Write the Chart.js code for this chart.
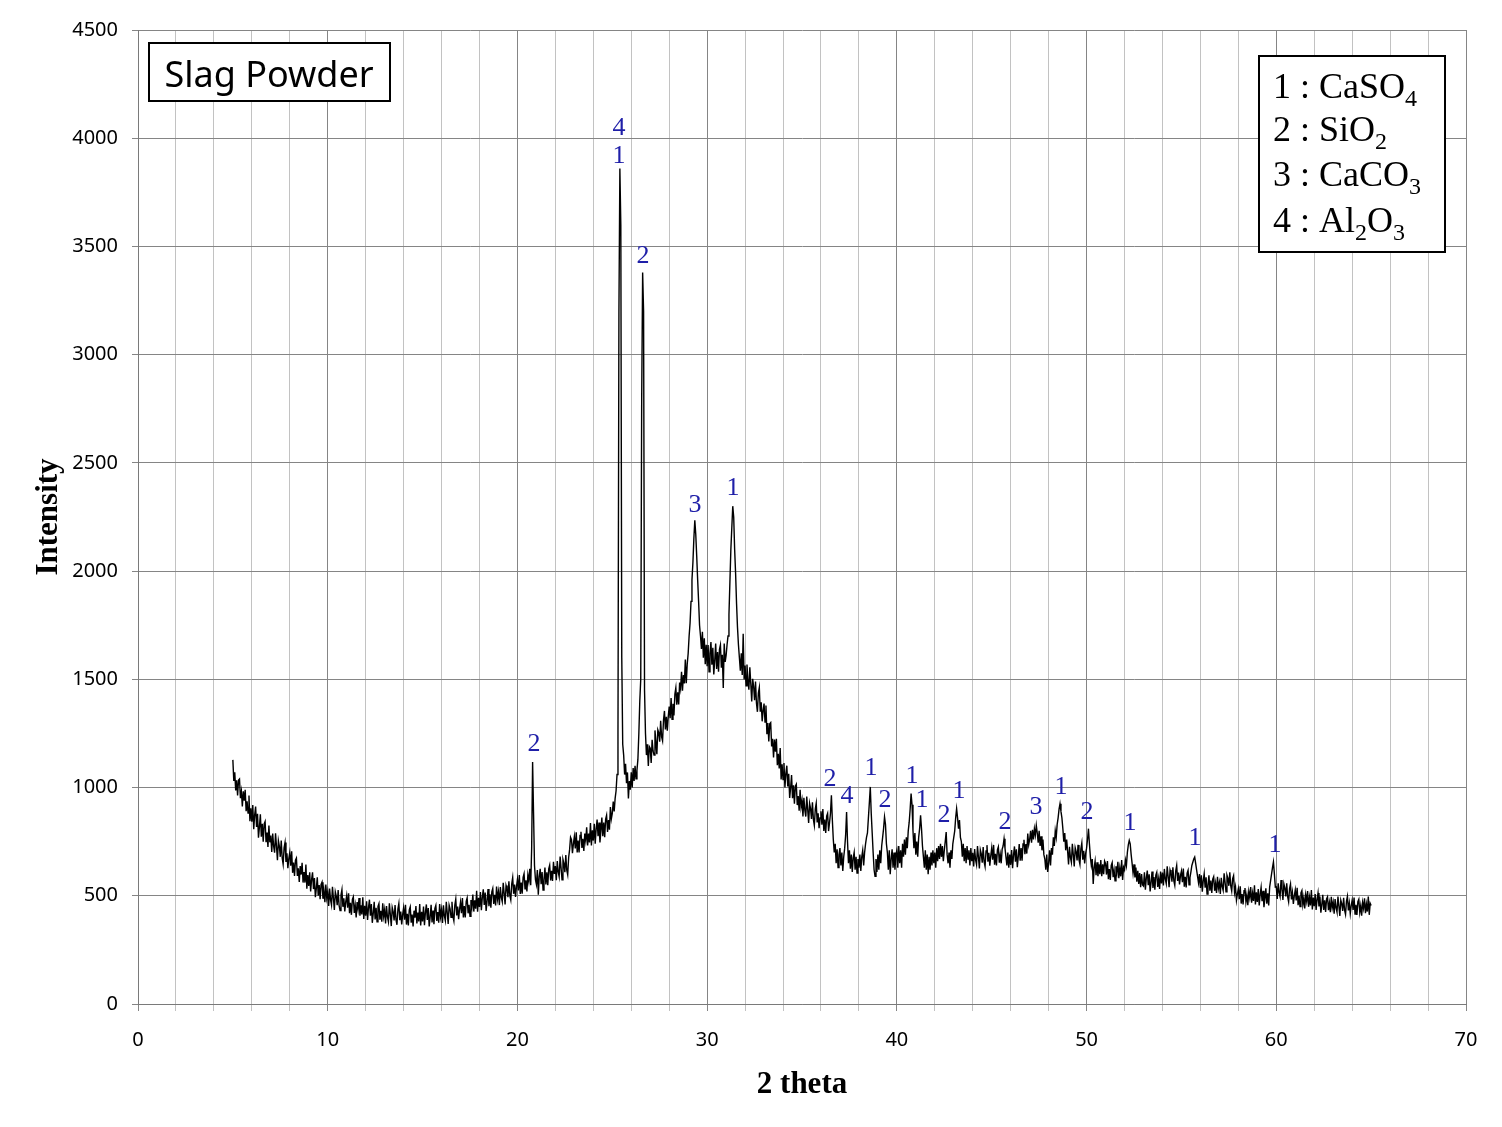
<!DOCTYPE html>
<html>
<head>
<meta charset="utf-8">
<script src="https://cdn.jsdelivr.net/npm/chart.js@4.4.1/dist/chart.umd.min.js"></script>
<style>
  html, body { margin: 0; padding: 0; background: #fff; }
  #wrap { width: 1502px; height: 1127px; position: relative; }
</style>
</head>
<body>
<div id="wrap"><canvas id="xrd"></canvas></div>
<script>
// scan grid (2 theta, degrees)
const angleStart = 5.0;
const angleStep = 0.05;

// intensity, one row per degree (5.00 ... 64.95, then 65.00)
const intensity = [
  1128, 1031, 1070, 987, 1033, 964, 1035, 1040, 951, 982, 913, 983, 939, 990, 891, 936, 882, 963, 844, 904,
  842, 919, 808, 874, 912, 818, 879, 768, 817, 877, 773, 833, 750, 832, 843, 748, 792, 725, 825, 747,
  778, 703, 788, 729, 699, 789, 729, 664, 755, 730, 680, 755, 675, 646, 721, 746, 656, 696, 627, 672,
  700, 639, 706, 606, 654, 592, 664, 674, 592, 627, 564, 637, 598, 652, 561, 609, 561, 644, 533, 596,
  545, 609, 520, 575, 608, 531, 582, 493, 534, 585, 500, 550, 484, 552, 563, 486, 523, 470, 552, 490,
  518, 453, 533, 481, 457, 541, 490, 434, 518, 498, 456, 526, 456, 432, 503, 528, 449, 488, 428, 472,
  501, 445, 512, 419, 468, 412, 483, 495, 421, 456, 400, 471, 438, 490, 408, 456, 414, 493, 393, 454,
  408, 475, 388, 446, 482, 408, 462, 375, 419, 472, 391, 444, 380, 451, 464, 390, 430, 380, 465, 405,
  436, 372, 453, 402, 380, 465, 415, 360, 446, 427, 386, 457, 389, 366, 438, 464, 387, 427, 368, 413,
  444, 390, 458, 367, 417, 363, 435, 449, 376, 413, 358, 431, 399, 453, 372, 422, 381, 462, 363, 426,
  381, 450, 364, 424, 460, 388, 443, 358, 403, 458, 377, 432, 369, 442, 456, 384, 425, 376, 462, 404,
  436, 374, 456, 407, 385, 472, 423, 370, 457, 440, 400, 472, 405, 384, 457, 485, 409, 450, 392, 439,
  471, 419, 489, 400, 452, 400, 474, 490, 419, 458, 405, 480, 450, 506, 427, 479, 440, 523, 426, 491,
  448, 517, 433, 493, 530, 458, 515, 430, 476, 531, 452, 507, 445, 518, 534, 462, 504, 455, 543, 485,
  518, 457, 540, 492, 472, 560, 512, 460, 548, 532, 493, 567, 501, 481, 555, 584, 509, 552, 495, 543,
  576, 525, 596, 508, 561, 510, 585, 602, 532, 572, 520, 596, 567, 625, 549, 720, 1118, 880, 640, 575,
  553, 619, 505, 589, 625, 553, 610, 526, 573, 630, 552, 609, 549, 624, 641, 571, 615, 568, 657, 601,
  637, 572, 660, 610, 588, 681, 630, 574, 668, 650, 609, 688, 618, 597, 677, 713, 770, 759, 697, 740,
  773, 719, 793, 700, 755, 700, 779, 796, 721, 763, 707, 787, 755, 816, 732, 787, 746, 836, 732, 802,
  755, 833, 741, 809, 852, 775, 838, 746, 799, 862, 775, 838, 771, 854, 872, 795, 850, 805, 910, 855,
  880, 935, 890, 950, 985, 1060, 1260, 3200, 3860, 3600, 1600, 1200, 1150, 1060, 1110, 1020, 1070, 950, 1030, 990,
  1070, 1000, 1090, 1030, 1100, 1040, 1080, 1130, 1250, 1400, 1500, 2800, 3380, 3200, 1450, 1250, 1150, 1200, 1100, 1190,
  1182, 1114, 1221, 1169, 1150, 1264, 1211, 1154, 1267, 1254, 1212, 1309, 1234, 1216, 1312, 1354, 1268, 1327, 1263, 1328,
  1374, 1320, 1414, 1315, 1387, 1333, 1432, 1461, 1383, 1440, 1384, 1485, 1457, 1535, 1447, 1520, 1481, 1592, 1482, 1571,
  1620, 1700, 1760, 1860, 1960, 2040, 2150, 2235, 2170, 2070, 1960, 1860, 1750, 1700, 1640, 1720, 1600, 1690, 1570, 1660,
  1561, 1659, 1535, 1620, 1672, 1567, 1646, 1522, 1587, 1665, 1548, 1626, 1535, 1639, 1659, 1554, 1613, 1460, 1665, 1580,
  1610, 1660, 1700, 1800, 1950, 2100, 2200, 2300, 2250, 2100, 1990, 1850, 1740, 1660, 1600, 1540, 1620, 1520, 1710, 1500,
  1564, 1470, 1568, 1492, 1452, 1556, 1480, 1398, 1502, 1468, 1404, 1490, 1390, 1350, 1436, 1462, 1350, 1394, 1306, 1356,
  1388, 1303, 1379, 1246, 1298, 1213, 1295, 1300, 1190, 1225, 1139, 1222, 1166, 1225, 1103, 1156, 1088, 1183, 1037, 1108,
  1037, 1113, 1000, 1065, 1101, 1005, 1064, 952, 999, 1058, 951, 1010, 925, 1006, 1015, 919, 961, 893, 990, 911,
  940, 867, 953, 895, 866, 958, 899, 836, 927, 904, 855, 932, 853, 825, 901, 928, 839, 881, 812, 859,
  890, 828, 901, 799, 852, 790, 868, 881, 799, 837, 880, 964, 850, 760, 700, 740, 650, 715, 630, 690,
  720, 640, 700, 615, 680, 720, 780, 887, 750, 650, 710, 625, 690, 610, 675, 700, 620, 680, 605, 670,
  630, 690, 615, 680, 710, 640, 700, 740, 770, 790, 860, 930, 1003, 880, 790, 700, 620, 590, 670, 610,
  690, 620, 710, 650, 730, 770, 810, 864, 830, 740, 700, 620, 710, 600, 670, 715, 630, 700, 620, 690,
  710, 630, 730, 650, 710, 630, 740, 680, 760, 690, 770, 720, 800, 840, 900, 972, 920, 800, 720, 790,
  690, 750, 680, 770, 810, 872, 810, 730, 680, 630, 710, 620, 690, 600, 680, 620, 700, 640, 710, 650,
  700, 630, 720, 660, 730, 670, 740, 680, 730, 660, 710, 750, 794, 690, 650, 700, 630, 710, 670, 740,
  770, 800, 860, 902, 860, 810, 850, 770, 750, 680, 740, 660, 720, 650, 730, 670, 710, 640, 720, 660,
  698, 635, 716, 666, 644, 730, 680, 626, 712, 694, 653, 725, 657, 635, 707, 734, 657, 698, 639, 685,
  721, 667, 735, 644, 694, 640, 712, 726, 653, 690, 650, 715, 730, 763, 720, 680, 640, 700, 630, 690,
  643, 711, 627, 689, 728, 657, 715, 632, 681, 739, 662, 720, 662, 739, 759, 692, 739, 695, 787, 736,
  760, 800, 745, 805, 760, 810, 780, 825, 790, 745, 800, 730, 775, 710, 760, 690, 670, 620, 690, 610,
  650, 710, 640, 720, 690, 770, 730, 800, 770, 830, 860, 900, 925, 890, 860, 810, 750, 790, 710, 760,
  708, 645, 726, 676, 654, 740, 690, 636, 722, 704, 663, 735, 667, 645, 717, 744, 667, 708, 649, 695,
  720, 760, 810, 740, 680, 640, 670, 555, 630, 660, 595, 655, 590, 645, 600, 665, 590, 645, 600, 660,
  649, 598, 661, 577, 623, 573, 640, 653, 586, 619, 569, 636, 607, 657, 581, 628, 590, 665, 573, 632,
  620, 665, 640, 700, 735, 756, 740, 690, 650, 605, 645, 585, 630, 565, 615, 555, 605, 540, 600, 550,
  545, 608, 528, 583, 616, 549, 599, 520, 562, 612, 536, 587, 528, 595, 608, 541, 578, 532, 612, 557,
  607, 548, 624, 577, 556, 636, 590, 540, 619, 603, 565, 632, 569, 548, 615, 640, 569, 607, 552, 594,
  614, 563, 626, 542, 588, 538, 605, 618, 551, 584, 610, 640, 655, 670, 679, 650, 620, 590, 560, 600,
  536, 595, 519, 570, 602, 537, 585, 508, 548, 595, 523, 570, 513, 577, 588, 523, 558, 513, 588, 535,
  561, 508, 583, 542, 525, 604, 563, 518, 596, 582, 546, 608, 546, 522, 579, 593, 515, 541, 479, 509,
  532, 484, 544, 464, 508, 460, 524, 536, 472, 504, 456, 520, 492, 540, 468, 512, 476, 548, 460, 516,
  471, 531, 455, 507, 539, 475, 523, 447, 487, 535, 463, 511, 455, 540, 570, 600, 630, 656, 600, 540,
  541, 485, 558, 515, 496, 573, 530, 481, 555, 536, 497, 558, 495, 472, 533, 554, 483, 516, 462, 500,
  527, 478, 537, 456, 499, 450, 513, 524, 459, 490, 441, 504, 475, 522, 449, 492, 455, 526, 437, 492,
  452, 508, 435, 483, 513, 451, 496, 422, 459, 504, 435, 479, 425, 485, 495, 433, 467, 424, 495, 445,
  470, 417, 485, 444, 425, 496, 453, 407, 480, 464, 430, 491, 434, 414, 475, 497, 432, 466, 417, 455,
  480, 435, 492, 416, 458, 412, 473, 484, 423, 454, 408, 469, 442, 488, 420, 461, 427, 496, 412, 465,
  455
];

// tick label values
const angleTicks = [0, 10, 20, 30, 40, 50, 60, 70];
const intensityTicks = [0, 500, 1000, 1500, 2000, 2500, 3000, 3500, 4000, 4500];

// peak marks (phase number placed above each peak)
const peakAngles = [25.35, 25.35, 26.62, 29.36, 31.36, 20.87, 36.48, 37.37, 38.64, 39.38, 40.80,
                    41.33, 42.49, 43.28, 45.70, 47.34, 48.65, 50.02, 52.29, 55.72, 59.93];
const peakLevels = [4047, 3918, 3456, 2305, 2384, 1201, 1040, 961, 1090, 942, 1053,
                    942, 873, 984, 841, 910, 1003, 887, 836, 767, 735];
const peakLabels = ["4", "1", "2", "3", "1", "2", "2", "4", "1", "2", "1",
                    "1", "2", "1", "2", "3", "1", "2", "1", "1", "1"];

// phase key: odd entries are subscripts
const phaseIds = ["1", "2", "3", "4"];
const phaseNames = [["CaSO", "4"], ["SiO", "2"], ["CaCO", "3"], ["Al", "2", "O", "3"]];

const sampleName = "Slag Powder";

const points = intensity.map((v, i) => ({ x: +(angleStart + i * angleStep).toFixed(2), y: v }));

const marks = {
  id: 'marks',
  afterDatasetsDraw(chart) {
    const { ctx, scales: { x, y } } = chart;
    ctx.save();

    // phase numbers over peaks
    ctx.font = '26px "Liberation Serif"';
    ctx.fillStyle = '#1f1fa8';
    ctx.textAlign = 'center';
    ctx.textBaseline = 'middle';
    peakLabels.forEach((t, i) => {
      ctx.fillText(t, x.getPixelForValue(peakAngles[i]), y.getPixelForValue(peakLevels[i]));
    });

    // sample name box
    ctx.fillStyle = '#fff';
    ctx.strokeStyle = '#000';
    ctx.lineWidth = 2;
    ctx.fillRect(149, 43, 241, 58);
    ctx.strokeRect(149, 43, 241, 58);
    ctx.fillStyle = '#000';
    ctx.font = '36px "Noto Sans"';
    ctx.textAlign = 'center';
    ctx.textBaseline = 'alphabetic';
    ctx.fillText(sampleName, 269, 87);

    // phase key box
    ctx.fillStyle = '#fff';
    ctx.fillRect(1259, 56, 186, 196);
    ctx.strokeRect(1259, 56, 186, 196);
    ctx.fillStyle = '#000';
    ctx.textAlign = 'left';
    const baselines = [98, 141, 186, 232];
    phaseIds.forEach((id, i) => {
      let cx = 1273;
      ctx.font = '36px "Liberation Serif"';
      const head = id + " : ";
      ctx.fillText(head, cx, baselines[i]);
      cx += ctx.measureText(head).width;
      phaseNames[i].forEach((part, k) => {
        if (k % 2) {
          ctx.font = '24px "Liberation Serif"';
          ctx.fillText(part, cx, baselines[i] + 8);
        } else {
          ctx.font = '36px "Liberation Serif"';
          ctx.fillText(part, cx, baselines[i]);
        }
        cx += ctx.measureText(part).width;
      });
    });
    ctx.restore();
  }
};

new Chart(document.getElementById('xrd'), {
  type: 'line',
  data: {
    datasets: [{
      data: points,
      borderColor: '#000',
      borderWidth: 1.4,
      pointRadius: 0,
      tension: 0,
      fill: false
    }]
  },
  options: {
    responsive: true,
    maintainAspectRatio: false,
    animation: false,
    layout: { padding: { top: 30, right: 36, left: 0, bottom: 0 } },
    plugins: { legend: { display: false }, tooltip: { enabled: false } },
    scales: {
      x: {
        type: 'linear',
        min: 0,
        max: 70,
        afterFit(scale) { scale.height = 123; },
        ticks: {
          stepSize: 2,
          autoSkip: false,
          maxRotation: 0,
          padding: 17,
          color: '#000',
          font: { family: 'Noto Sans', size: 20 },
          callback: v => (angleTicks.includes(v) ? String(v) : '')
        },
        grid: {
          color: c => (c.tick && angleTicks.includes(c.tick.value) ? '#858585' : '#c2c2c2'),
          tickColor: c => (c.tick && angleTicks.includes(c.tick.value) ? '#858585' : '#c2c2c2'),
          tickLength: 7,
          lineWidth: 1
        },
        border: { color: '#7a7a7a', width: 1 },
        title: {
          display: true,
          text: '2 theta',
          color: '#000',
          font: { family: 'Liberation Serif', size: 31, weight: 'bold' },
          padding: { top: 0, bottom: 23 }
        }
      },
      y: {
        min: 0,
        max: 4500,
        afterFit(scale) { scale.width = 138; },
        afterBuildTicks(scale) { scale.ticks = intensityTicks.map(v => ({ value: v })); },
        ticks: {
          padding: 14,
          color: '#000',
          font: { family: 'Noto Sans', size: 20 },
          callback: v => String(v)
        },
        grid: { color: '#858585', tickLength: 6, lineWidth: 1 },
        border: { color: '#7a7a7a', width: 1 },
        title: {
          display: true,
          text: 'Intensity',
          color: '#000',
          font: { family: 'Liberation Serif', size: 31, weight: 'bold' },
          padding: { top: 30, bottom: 0 }
        }
      }
    }
  },
  plugins: [marks]
});
</script>
</body>
</html>
